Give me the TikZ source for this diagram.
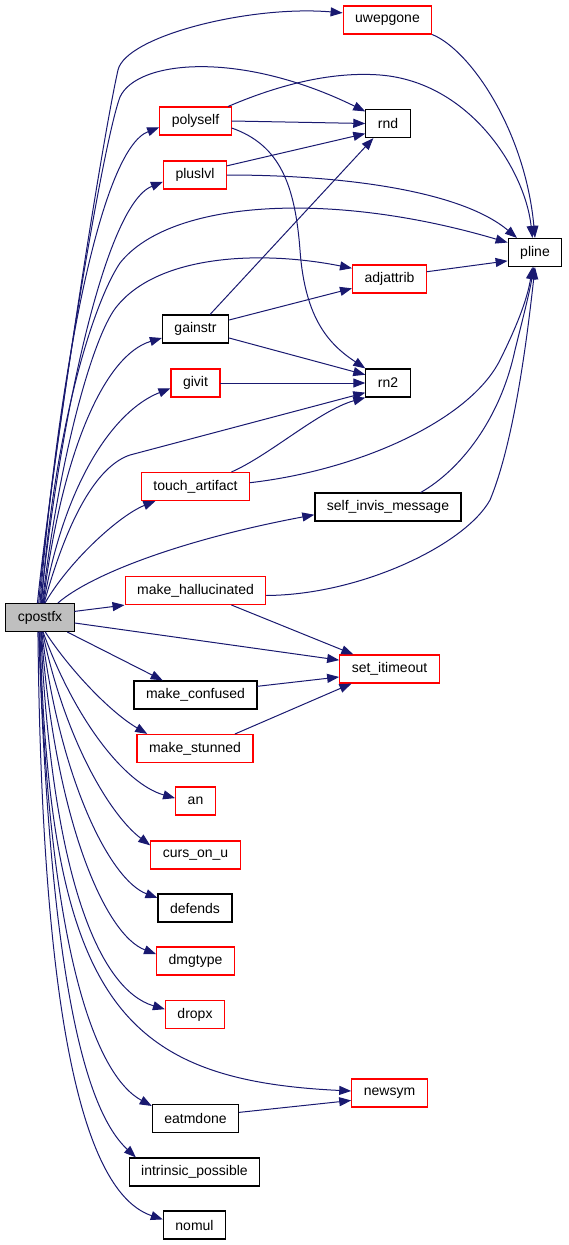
\documentclass[tikz,border=0pt]{standalone}
\usepackage{fontspec}
\setmainfont{Liberation Sans}
\usetikzlibrary{arrows.meta}
\definecolor{edgeblue}{HTML}{191970}
\definecolor{rootgrey}{HTML}{BFBFBF}
\definecolor{calledred}{HTML}{FF0000}
\begin{document}
\begin{tikzpicture}[x=1pt,y=-1pt,line cap=round,
  fn/.style={draw=black,fill=white,line width=1.2pt,minimum height=28pt,
    inner xsep=12pt,inner ysep=0pt,font=\fontsize{14}{16}\selectfont},
  fnred/.style={fn,draw=calledred},
  fnroot/.style={fn,fill=rootgrey},
  call/.style={draw=edgeblue,line width=1pt,-{Triangle[length=12pt,width=9pt]}}]
\useasboundingbox (0,0) rectangle (568,1245);
% root
\node[fnroot] (cpostfx) at (40,617.5) {cpostfx};
% first rank
\node[fnred] (polyself) at (195.5,121) {polyself};
\node[fnred] (pluslvl) at (195,175) {pluslvl};
\node[fn] (gainstr) at (195.5,329) {gainstr};
\node[fnred] (givit) at (195.5,383) {givit};
\node[fnred] (touchartifact) at (195.5,486.5) {touch\_artifact};
\node[fnred] (makehallucinated) at (195.5,590.5) {make\_hallucinated};
\node[fn] (makeconfused) at (195.5,695) {make\_confused};
\node[fnred] (makestunned) at (195,748.5) {make\_stunned};
\node[fnred] (an) at (195.5,801) {an};
\node[fnred] (cursonu) at (195.5,855) {curs\_on\_u};
\node[fn] (defends) at (195,908) {defends};
\node[fnred] (dmgtype) at (195.5,961) {dmgtype};
\node[fnred] (dropx) at (195,1014.5) {dropx};
\node[fn] (eatmdone) at (195.5,1118.5) {eatmdone};
\node[fn] (intrinsicpossible) at (194.5,1172) {intrinsic\_possible};
\node[fn] (nomul) at (194.5,1225) {nomul};
% second rank
\node[fnred] (uwepgone) at (387.5,20) {uwepgone};
\node[fn] (rnd) at (388,123.5) {rnd};
\node[fnred] (adjattrib) at (389.5,279) {adjattrib};
\node[fn] (rn2) at (388,383) {rn2};
\node[fn] (selfinvismessage) at (388,507) {self\_invis\_message};
\node[fnred] (setitimeout) at (389.5,669) {set\_itimeout};
\node[fnred] (newsym) at (389.5,1093) {newsym};
\node[fn] (pline) at (535,252.5) {pline};
% calls from cpostfx, upwards
\draw[call] (cpostfx.100) .. controls (50,480) and (100,150) .. (118,70) .. controls (126,36) and (250,5) .. (uwepgone.171);
\draw[call] (cpostfx.95) .. controls (52,450) and (102,145) .. (120,97) .. controls (137,60) and (240,50) .. (rnd.152);
\draw[call] (cpostfx.90) .. controls (58,380) and (100,150) .. (polyself.190);
\draw[call] (cpostfx.87) .. controls (60,420) and (105,205) .. (pluslvl.192);
\draw[call] (cpostfx.84) .. controls (55,420) and (95,300) .. (120,263) .. controls (170,200) and (330,190) .. (pline.160);
\draw[call] (cpostfx.81) .. controls (60,450) and (95,330) .. (118,305) .. controls (160,255) and (260,250) .. (adjattrib.164);
\draw[call] (cpostfx.78) .. controls (62,450) and (105,355) .. (gainstr.195);
\draw[call] (cpostfx.76) .. controls (65,480) and (115,410) .. (givit.192);
\draw[call] (cpostfx.74) .. controls (70,510) and (100,465) .. (130,455) -- (rn2.203);
\draw[call] (cpostfx.71) .. controls (70,560) and (120,515) .. (touchartifact.-160);
\draw[call] (cpostfx.39) .. controls (90,575) and (180,540) .. (selfinvismessage.186);
% calls from cpostfx, sideways
\draw[call] (cpostfx.10) -- (makehallucinated.south west);
\draw[call] (cpostfx.-9) -- (setitimeout.170);
\draw[call] (cpostfx.-28) -- (makeconfused.156);
% calls from cpostfx, downwards
\draw[call] (cpostfx.-70) .. controls (70,670) and (110,712) .. (makestunned.163);
\draw[call] (cpostfx.-78) .. controls (75,720) and (125,784) .. (an.172);
\draw[call] (cpostfx.-80) .. controls (65,740) and (110,815) .. (cursonu.168);
\draw[call] (cpostfx.-83) .. controls (60,780) and (110,880) .. (defends.165);
\draw[call] (cpostfx.-85) .. controls (55,820) and (105,935) .. (dmgtype.170);
\draw[call] (cpostfx.-87) .. controls (52,880) and (100,990) .. (dropx.170);
\draw[call] (cpostfx.-90) .. controls (50,1000) and (120,1080) .. (newsym.177);
\draw[call] (cpostfx.-93) .. controls (48,950) and (95,1075) .. (eatmdone.164);
\draw[call] (cpostfx.-95) .. controls (50,980) and (85,1110) .. (intrinsicpossible.166);
\draw[call] (cpostfx.-98) .. controls (42,1050) and (90,1195) .. (nomul.170);
% calls between the other functions
\draw[call] (uwepgone.south east) .. controls (470,50) and (525,130) .. (pline.north);
\draw[call] (polyself.24) .. controls (290,80) and (340,72) .. (380,75) .. controls (470,82) and (525,170) .. (pline.100);
\draw[call] (polyself.east) -- (rnd.west);
\draw[call] (polyself.-11) .. controls (280,145) and (295,185) .. (300,250) .. controls (305,320) and (330,345) .. (rn2.north west);
\draw[call] (pluslvl.16) -- (rnd.204);
\draw[call] (pluslvl.east) .. controls (340,175) and (460,190) .. (pline.141);
\draw[call] (adjattrib.11) -- (pline.197);
\draw[call] (gainstr.45) -- (rnd.-135);
\draw[call] (gainstr.15) -- (adjattrib.194);
\draw[call] (gainstr.-15) -- (rn2.160);
\draw[call] (givit.east) -- (rn2.west);
\draw[call] (touchartifact.22) .. controls (270,455) and (320,410) .. (rn2.south west);
\draw[call] (touchartifact.4) .. controls (360,470) and (470,420) .. (500,360) .. controls (520,320) and (528,295) .. (pline.-100);
\draw[call] (selfinvismessage.24) .. controls (460,470) and (500,420) .. (515,350) .. controls (525,310) and (530,290) .. (pline.-95);
\draw[call] (makehallucinated.-4) .. controls (360,595) and (465,545) .. (490,500) .. controls (515,440) and (528,330) .. (pline.-90);
\draw[call] (makehallucinated.-22) -- (setitimeout.158);
\draw[call] (makeconfused.8) -- (setitimeout.189);
\draw[call] (makestunned.20) -- (setitimeout.201);
\draw[call] (eatmdone.8) -- (newsym.191);
\end{tikzpicture}
\end{document}
